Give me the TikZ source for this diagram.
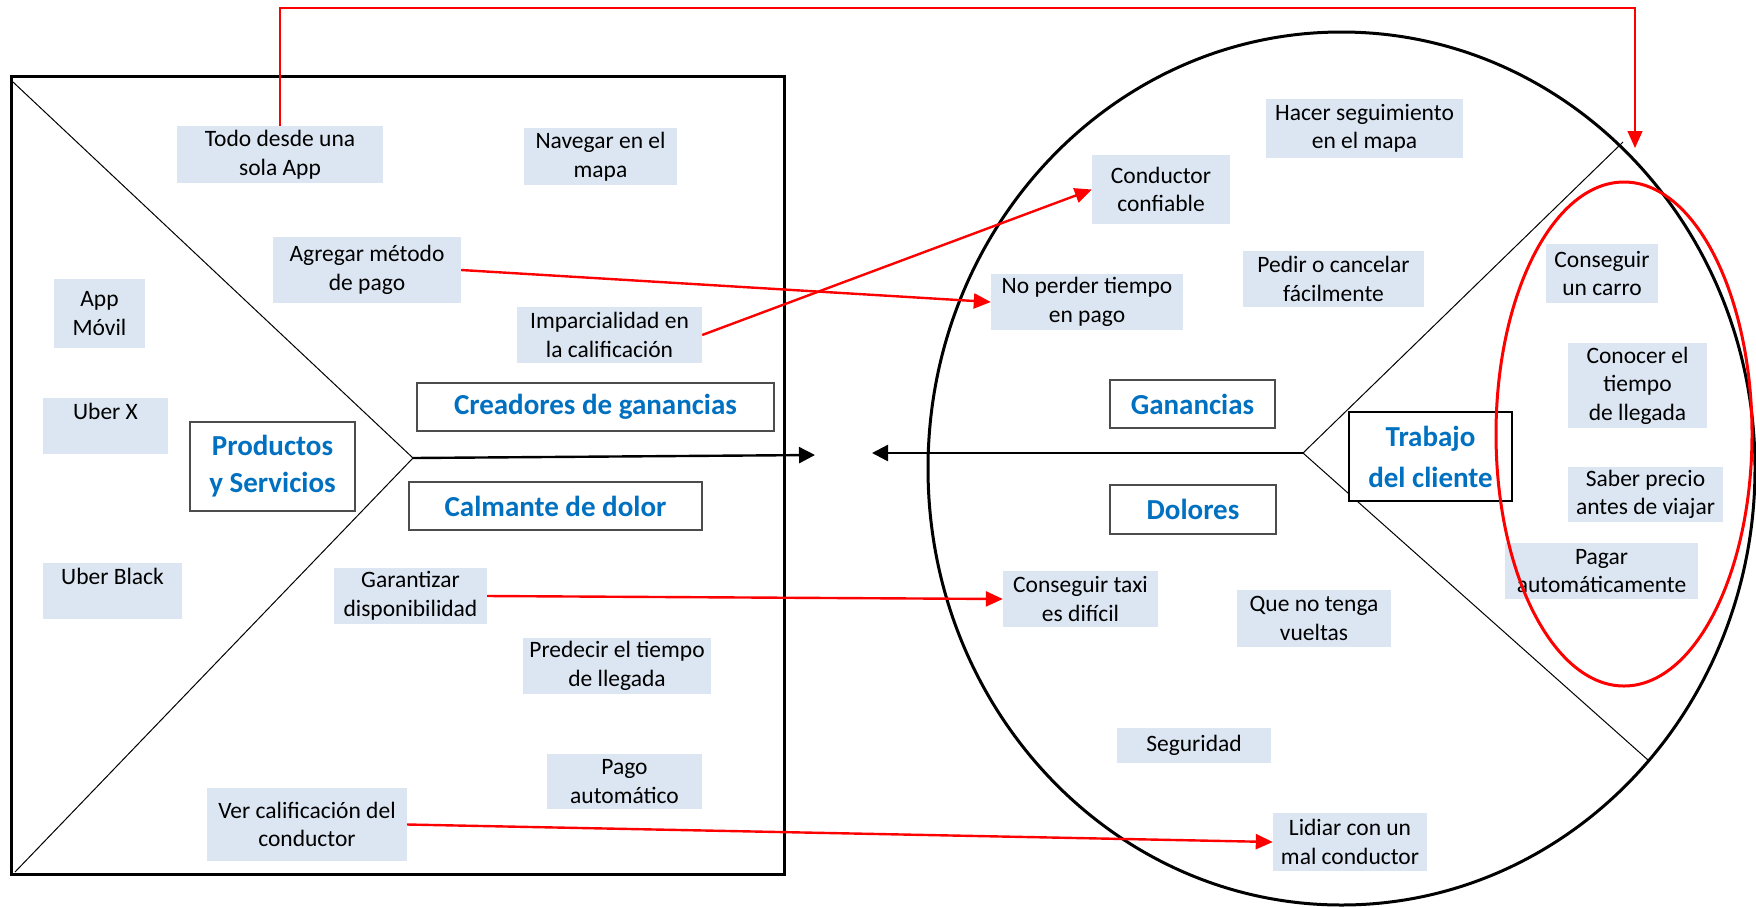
\documentclass[tikz,border=0pt]{standalone}
\usepackage{fontspec}
\setmainfont{Carlito}
\usepackage{tikz}
\usetikzlibrary{arrows.meta,positioning,calc}
\definecolor{cajaazul}{HTML}{DCE6F2}
\definecolor{titazul}{HTML}{0070C0}
\tikzstyle{caja}=[fill=cajaazul, inner sep=0pt, align=center, font=\fontsize{23.5}{28.5}\selectfont]
\tikzstyle{titulo}=[draw=black!70, line width=1.5pt, fill=white, inner sep=0pt, align=center, text=titazul, font=\fontsize{29}{37}\selectfont\bfseries]
\tikzstyle{flecharoja}=[red, line width=2.4pt, ->]
\tikzstyle{flechanegra}=[line width=2.4pt, -{Triangle[length=16pt,width=16pt]}]
\tikzset{tam/.style 2 args={minimum width=#1pt, minimum height=#2pt}}

\begin{document}
\begin{tikzpicture}[x=1pt,y=-1pt,>={Triangle[length=17pt,width=15pt]}]
  \useasboundingbox (0,0) rectangle (1756,906);

  % propuesta de valor
  \draw[line width=3pt] (11,76) rectangle (784,874);
  \coordinate (pv) at (413,458);
  \coordinate (pnw) at (13,82);
  \coordinate (psw) at (15,872);
  \coordinate (pfin) at (815,455);
  \draw[line width=1pt] (pnw) -- (pv) -- (psw);
  \draw[flechanegra] (pv) -- (pfin);

  % perfil del cliente
  \draw[line width=3pt] (1341.5,468.5) ellipse [x radius=413.5pt, y radius=436.5pt];
  \coordinate (cv) at (1303,453);
  \coordinate (cne) at (1623,142);
  \coordinate (cse) at (1648,760);
  \coordinate (cfin) at (872,453);
  \draw[line width=1pt] (cne) -- (cv) -- (cse);
  \draw[flechanegra] (cv) -- (cfin);

  \node[caja, tam={206}{57}] (todo) at (280,154.5) {Todo desde una\\sola App};
  \node[caja, tam={153}{57}] (navegar) at (600.5,156.5) {Navegar en el\\mapa};
  \node[caja, tam={188}{66}] (agregar) at (367,270) {Agregar método\\de pago};
  \node[caja, tam={91}{69}] (app) at (99.5,313.5) {App\\Móvil};
  \node[caja, tam={185}{56}] (imparc) at (609.5,335) {Imparcialidad en\\la calificación};
  \node[caja, tam={125}{56}] (uberx) at (105.5,426) {Uber X\\~};
  \node[titulo, tam={165}{89}] (prod) at (272.5,466.5) {Productos\\y Servicios};
  \node[titulo, tam={357}{48}] (creadores) at (595.5,407) {Creadores de ganancias};
  \node[titulo, tam={293}{48}] (calmante) at (555.5,506) {Calmante de dolor};
  \node[caja, tam={139}{56}] (uberblack) at (112.5,591) {Uber Black\\~};
  \node[caja, tam={153}{56}] (garant) at (410.5,596) {Garantizar\\disponibilidad};
  \node[caja, tam={188}{56}] (predecir) at (617,666) {Predecir el tiempo\\de llegada};
  \node[caja, tam={155}{55}] (pagoauto) at (624.5,781.5) {Pago\\automático};
  \node[caja, tam={200}{73}] (vercalif) at (307,824.5) {Ver calificación del\\conductor};

  \node[caja, tam={197}{59}] (hacer) at (1364.5,128.5) {Hacer seguimiento\\en el mapa};
  \node[caja, tam={138}{69}] (confiable) at (1161,189.5) {Conductor\\confiable};
  \node[caja, tam={192}{56}] (noperder) at (1087,302) {No perder tiempo\\en pago};
  \node[caja, tam={181}{56}] (pedir) at (1333.5,279) {Pedir o cancelar\\fácilmente};
  \node[titulo, tam={165}{48}] (ganancias) at (1192.5,404) {Ganancias};
  \node[titulo, draw=black, line width=2.5pt, tam={163}{89}, font=\fontsize{29}{41}\selectfont\bfseries] (trabajo) at (1430.5,456.5) {Trabajo\\del cliente};
  \node[caja, tam={112}{59}] (carro) at (1602,273.5) {Conseguir\\un carro};
  \node[caja, tam={139}{85}] (conocer) at (1637.5,385.5) {Conocer el\\tiempo\\de llegada};
  \node[caja, tam={155}{55}] (saber) at (1645.5,494.5) {Saber precio\\antes de viajar};
  \node[caja, tam={193}{56}] (pagar) at (1601.5,571) {Pagar\\automáticamente};
  \node[titulo, tam={166}{49}] (dolores) at (1193,509.5) {Dolores};
  \node[caja, tam={155}{56}] (taxi) at (1080.5,599) {Conseguir taxi\\es difícil};
  \node[caja, tam={154}{57}] (vueltas) at (1314,618.5) {Que no tenga\\vueltas};
  \node[caja, tam={154}{35}] (seguridad) at (1194,745.5) {Seguridad};
  \node[caja, tam={154}{58}] (lidiar) at (1350,842) {Lidiar con un\\mal conductor};

  % relaciones
  \draw[flecharoja] (agregar.east) -- (noperder.west);
  \draw[flecharoja] (imparc.east) -- (confiable.west);
  \draw[flecharoja] (garant.east) -- (taxi.west);
  \draw[flecharoja] (vercalif.east) -- (lidiar.west);
  \coordinate (rtop) at (1635,8);
  \coordinate (rfin) at (1635,148);
  \draw[red, line width=1.2pt, ->] (todo.north) |- (rtop) -- (rfin);
  \draw[red, line width=3pt] (1624,434) ellipse [x radius=128pt, y radius=252pt];
\end{tikzpicture}
\end{document}
